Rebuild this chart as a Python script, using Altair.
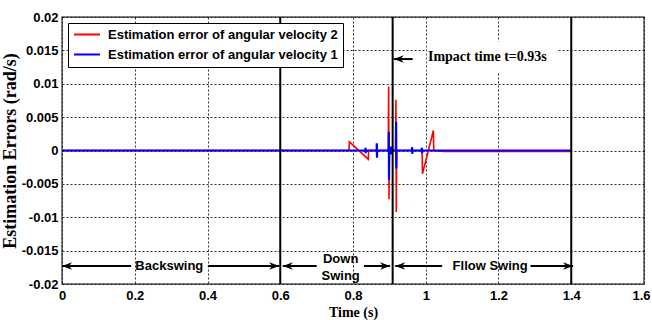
import altair as alt
import pandas as pd

# ---------------- data ----------------
x_ticks = [0, 0.2, 0.4, 0.6, 0.8, 1.0, 1.2, 1.4, 1.6]
y_ticks = [-0.02, -0.015, -0.01, -0.005, 0, 0.005, 0.01, 0.015, 0.02]

series_names = ["Estimation error of angular velocity 2",
                "Estimation error of angular velocity 1"]
series_colors = ["#ff0000", "#0000ff"]

# velocity 2 (red)
red_t = [0.0, 0.789, 0.790, 0.842, 0.843, 0.897, 0.898, 0.899, 0.900,
         0.904, 0.905, 0.906, 0.917, 0.918, 0.919, 0.920, 0.990, 0.991,
         1.021, 1.022, 1.05, 1.40]
red_v = [0, 0, 0.0013, -0.0013, 0, 0, 0.0096, -0.0073, 0,
         0.0003, -0.0003, 0, 0, 0.0076, -0.0092, 0, 0, -0.0035,
         0.0030, 0, -0.00015, -0.00015]

# velocity 1 (blue)
blue_t = [0.0,
          0.834, 0.8345, 0.835, 0.8355,
          0.865, 0.8655, 0.866, 0.8665,
          0.898, 0.8985, 0.899, 0.8995,
          0.904, 0.9045, 0.905, 0.9055,
          0.918, 0.9185, 0.919, 0.9195,
          0.962, 0.9625, 0.963, 0.9635,
          0.989, 0.9895, 0.990, 0.9905,
          1.40]
blue_v = [0,
          0, 0.0004, -0.0004, 0,
          0, 0.0011, -0.0011, 0,
          0, 0.0028, -0.0044, 0,
          0, 0.0006, -0.0006, 0,
          0, 0.0043, -0.0027, 0,
          0, 0.0005, -0.0005, 0,
          0, 0.0004, -0.0004, 0,
          0]

# phase boundaries
phase_t = [0.6, 0.909, 1.4]

# annotation arrows
arrow_tail = [0.19, 0.401, 0.700, 0.830, 1.045, 1.288, 0.964]
arrow_tip = [0.0, 0.597, 0.607, 0.902, 0.916, 1.405, 0.912]
arrow_y = [-0.0173, -0.0173, -0.0173, -0.0173, -0.0173, -0.0173, 0.0137]

# phase labels
label_text = ["Backswing", "Down", "Swing", "Fllow Swing"]
label_t = [0.295, 0.766, 0.766, 1.177]
label_v = [-0.0173, -0.0163, -0.0188, -0.0173]

impact_text = ["Impact time t=0.93s"]
impact_t = [1.006]
impact_v = [0.0140]
impact_box_t = [1.003, 1.36]
impact_box_v = [0.0118, 0.0163]

# ---------------- tables ----------------
red_df = pd.DataFrame({"t": red_t, "v": red_v, "series": series_names[0],
                       "i": range(len(red_t))})
blue_df = pd.DataFrame({"t": blue_t, "v": blue_v, "series": series_names[1],
                        "i": range(len(blue_t))})
phase_df = pd.DataFrame({"t": phase_t})
arrow_df = pd.DataFrame({"tail": arrow_tail, "tip": arrow_tip, "v": arrow_y,
                         "angle": [0 if b > a else 180 for a, b in zip(arrow_tail, arrow_tip)]})
label_df = pd.DataFrame({"t": label_t, "v": label_v, "text": label_text})
impact_df = pd.DataFrame({"t": impact_t, "v": impact_v, "text": impact_text})
box_df = pd.DataFrame({"t": [impact_box_t[0]], "t2": [impact_box_t[1]],
                       "v": [impact_box_v[0]], "v2": [impact_box_v[1]]})

# ---------------- scales / axes ----------------
xs = alt.Scale(domain=[0, 1.6], nice=False, zero=False)
ys = alt.Scale(domain=[-0.02, 0.02], nice=False, zero=False)

xaxis = alt.Axis(values=x_ticks, format=".1~f", title="Time (s)",
                 grid=True, gridColor="black", gridDash=[2, 2], gridOpacity=0.8,
                 domain=False, ticks=False, labelPadding=5, labelFlush=False,
                 labelOffset={"condition": {"test": "datum.value >= 1.59", "value": -3},
                              "value": 0},
                 labelFont="Liberation Sans", labelFontWeight="bold",
                 labelFontSize=13, labelColor="black",
                 titleFont="Liberation Serif", titleFontWeight="bold",
                 titleFontSize=14, titleColor="black", titlePadding=3)
yaxis = alt.Axis(values=y_ticks,
                 labelExpr="replace(format(datum.value, '.3~f'), '\u2212', '-')",
                 title="Estimation Errors (rad/s)",
                 grid=True, gridColor="black", gridDash=[2, 2], gridOpacity=0.8,
                 domain=False, ticks=False, labelPadding=4, labelFlush=False,
                 labelFont="Liberation Sans", labelFontWeight="bold",
                 labelFontSize=13, labelColor="black",
                 titleFont="Liberation Serif", titleFontWeight="bold",
                 titleFontSize=18, titleColor="black", titlePadding=2)


def X(f):
    return alt.X(f, type="quantitative", scale=xs, axis=xaxis)


def Y(f):
    return alt.Y(f, type="quantitative", scale=ys, axis=yaxis)


legend = alt.Legend(orient="none", legendX=6, legendY=6, title=None,
                    symbolType="stroke", symbolSize=676, symbolStrokeWidth=2,
                    clipHeight=13, rowPadding=6, padding=5, labelOffset=7,
                    labelFont="Liberation Sans", labelFontWeight="bold",
                    labelFontSize=13, labelColor="black", labelLimit=400,
                    strokeColor="black", fillColor="white")
color = alt.Color("series:N", scale=alt.Scale(domain=series_names, range=series_colors),
                  legend=legend)

# ---------------- layers ----------------
box = alt.Chart(box_df).mark_rect(color="white").encode(
    x=X("t"), x2="t2", y=Y("v"), y2="v2")

red = alt.Chart(red_df).mark_line(strokeWidth=1.6).encode(
    x=X("t"), y=Y("v"), color=color, order="i:Q")
blue = alt.Chart(blue_df).mark_line(strokeWidth=2.2).encode(
    x=X("t"), y=Y("v"), color=color, order="i:Q")

phases = alt.Chart(phase_df).mark_rule(color="black", strokeWidth=2).encode(x=X("t"))

arrows = alt.Chart(arrow_df).mark_rule(color="black", strokeWidth=2).encode(
    x=X("tail"), x2="tip", y=Y("v"))
heads = alt.Chart(arrow_df).mark_point(
    filled=True, color="black", opacity=1, size=100,
    shape="M0,0 L-2,-0.75 L-1.4,0 L-2,0.75 Z").encode(
    x=X("tip"), y=Y("v"), angle=alt.Angle("angle:Q", scale=None))

labels = alt.Chart(label_df).mark_text(
    font="Liberation Sans", fontWeight="bold", fontSize=13, color="black",
    align="center", baseline="middle").encode(x=X("t"), y=Y("v"), text="text:N")

impact = alt.Chart(impact_df).mark_text(
    font="Liberation Serif", fontWeight="bold", fontSize=14, color="black",
    align="left", baseline="middle").encode(x=X("t"), y=Y("v"), text="text:N")

chart = alt.layer(box, red, blue, phases, arrows, heads, labels, impact).properties(
    width=582, height=267,
    autosize=alt.AutoSizeParams(type="none"),
    padding={"left": 62, "top": 17, "right": 8, "bottom": 36},
    background="white",
).configure_view(stroke="#555555", strokeWidth=1.5)

chart.save("out.html", embed_options={"renderer": "svg", "actions": False})
